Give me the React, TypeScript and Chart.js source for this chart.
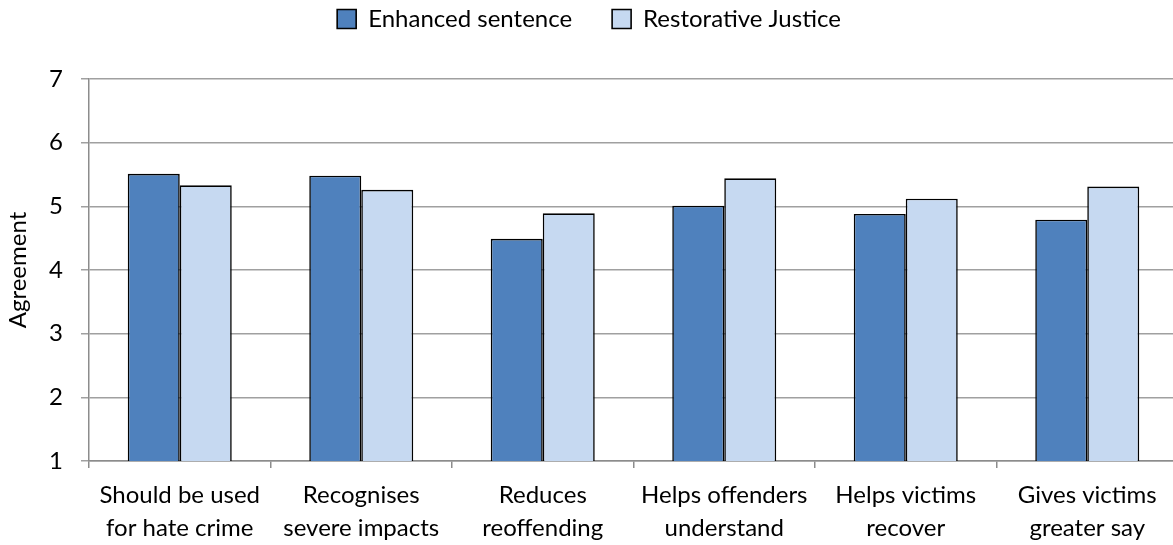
import React, { useEffect, useRef } from "react";
import { Chart, registerables } from "chart.js";

Chart.register(...registerables);

const categories: string[][] = [
  ["Should be used", "for hate crime"],
  ["Recognises", "severe impacts"],
  ["Reduces", "reoffending"],
  ["Helps offenders", "understand"],
  ["Helps victims", "recover"],
  ["Gives victims", "greater say"],
];
const enhancedSentence: number[] = [5.51, 5.48, 4.49, 5.01, 4.88, 4.79];
const restorativeJustice: number[] = [5.33, 5.26, 4.89, 5.44, 5.12, 5.31];
const yTicks: number[] = [1, 2, 3, 4, 5, 6, 7];

const FONT = "Lato, 'Open Sans', sans-serif";

export default function App() {
  const ref = useRef<HTMLCanvasElement | null>(null);

  useEffect(() => {
    if (!ref.current) return;
    const chart = new Chart(ref.current, {
      type: "bar",
      data: {
        labels: categories,
        datasets: [
          {
            label: "Enhanced sentence",
            data: enhancedSentence,
            backgroundColor: "#4F81BD",
            borderColor: "#000000",
            borderWidth: 1.6,
            borderSkipped: false,
            categoryPercentage: 0.573,
            barPercentage: 1,
          },
          {
            label: "Restorative Justice",
            data: restorativeJustice,
            backgroundColor: "#C6D9F1",
            borderColor: "#000000",
            borderWidth: 1.6,
            borderSkipped: false,
            categoryPercentage: 0.573,
            barPercentage: 1,
          },
        ],
      },
      options: {
        animation: false,
        responsive: false,
        maintainAspectRatio: false,
        layout: { padding: { left: 0, right: 2, top: -33, bottom: -11 } },
        plugins: {
          legend: {
            display: true,
            position: "top",
            weight: 1000,
            labels: {
              font: { family: FONT, size: 24 },
              color: "#000",
              boxWidth: 19,
              boxHeight: 19,
              padding: 40,
            },
          },
          title: {
            display: true,
            text: "",
            position: "top",
            weight: 100,
            font: { size: 10, lineHeight: 1.2 },
            padding: { top: 13, bottom: 13 },
          },
          tooltip: { enabled: false },
        },
        scales: {
          x: {
            grid: {
              display: true,
              drawOnChartArea: false,
              drawTicks: true,
              tickLength: 7,
              color: "#8c8c8c",
              lineWidth: 1.5,
              offset: true,
            },
            border: { display: true, color: "#8c8c8c", width: 1.5 },
            ticks: {
              font: { family: FONT, size: 24, lineHeight: 1.375 },
              color: "#000",
              padding: 11,
              maxRotation: 0,
              autoSkip: false,
            },
          },
          y: {
            min: 1,
            max: 7,
            afterBuildTicks: (scale: any) => {
              scale.ticks = yTicks.map((v) => ({ value: v }));
            },
            afterFit: (scale: any) => {
              scale.width = 89;
            },
            grid: {
              color: "#a0a0a0",
              lineWidth: 1.5,
              tickLength: 8,
              drawTicks: true,
            },
            border: { display: true, color: "#8c8c8c", width: 1.5 },
            ticks: {
              font: { family: FONT, size: 24 },
              color: "#000",
              padding: 18,
            },
            title: {
              display: true,
              text: "Agreement",
              font: { family: FONT, size: 24 },
              color: "#000",
              padding: { top: 4, bottom: 4 },
            },
          },
        },
      },
    });
    return () => chart.destroy();
  }, []);

  return (
    <div style={{ position: "fixed", left: 0, top: 0, width: 1173, height: 545, overflow: "hidden", background: "#fff" }}>
      <canvas ref={ref} width={1180} height={545} style={{ display: "block", width: 1180, height: 545 }} />
    </div>
  );
}
